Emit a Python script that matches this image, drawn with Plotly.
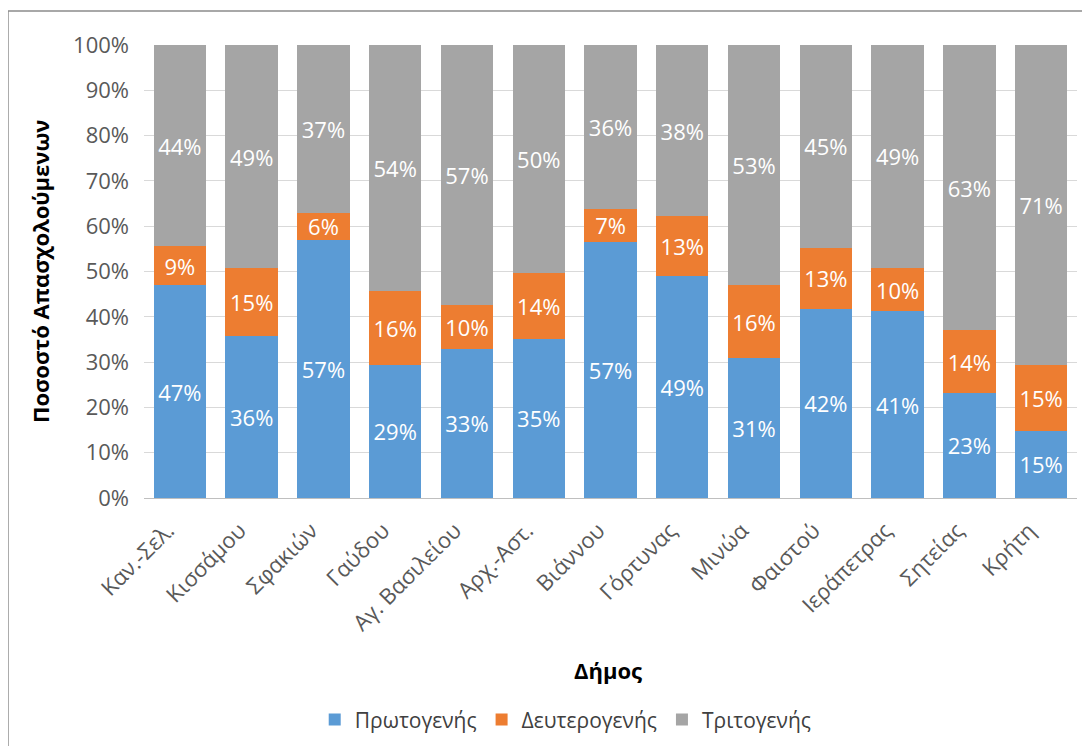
import plotly.graph_objects as go

municipalities = [
    'Καν.-Σελ.', 'Κισσάμου', 'Σφακιών', 'Γαύδου', 'Αγ. Βασιλείου', 'Αρχ.-Αστ.',
    'Βιάννου', 'Γόρτυνας', 'Μινώα', 'Φαιστού', 'Ιεράπετρας', 'Σητείας', 'Κρήτη'
]
primary = [47.0, 35.7, 57.0, 29.4, 33.0, 35.2, 56.6, 49.0, 30.8, 41.8, 41.2, 23.2, 14.8]
secondary = [8.6, 15.0, 6.0, 16.2, 9.6, 14.4, 7.2, 13.2, 16.3, 13.4, 9.6, 13.8, 14.6]
tertiary = [44.4, 49.3, 37.0, 54.4, 57.4, 50.4, 36.2, 37.8, 52.9, 44.8, 49.2, 63.0, 70.6]

y_ticks = [0, 10, 20, 30, 40, 50, 60, 70, 80, 90, 100]
y_tick_labels = ['0%', '10%', '20%', '30%', '40%', '50%', '60%', '70%', '80%', '90%', '100%']

font_family = 'Open Sans, Noto Sans, sans-serif'

fig = go.Figure()

series = [
    ('Πρωτογενής', primary, '#5B9BD5'),
    ('Δευτερογενής', secondary, '#ED7D31'),
    ('Τριτογενής', tertiary, '#A5A5A5'),
]
for name, values, color in series:
    fig.add_trace(go.Bar(
        x=municipalities, y=values, name=name,
        marker=dict(color=color, line=dict(width=0)),
        texttemplate='%{y:.0f}%', textposition='inside',
        insidetextanchor='middle', constraintext='none',
        textfont=dict(color='white', size=22, family=font_family),
        hoverinfo='x+y+name',
    ))

# the page body has an 8px margin, so the figure is sized/offset to compensate
fig.update_layout(
    barmode='stack',
    bargap=0.27,
    width=1074, height=738,
    margin=dict(l=136, r=5, t=37, b=246),
    plot_bgcolor='white', paper_bgcolor='white',
    font=dict(family=font_family, size=21, color='#595959'),
    showlegend=True,
    legend=dict(
        orientation='h', x=0.452, xanchor='center', y=-0.49, yanchor='middle',
        font=dict(size=21, color='#404040'), traceorder='normal',
        itemwidth=30, itemsizing='constant',
    ),
    xaxis=dict(
        tickangle=-45, showgrid=False, showline=True, linecolor='#bfbfbf',
        linewidth=1, ticks='', automargin=False,
        ticklabelstandoff=10, ticklabelshift=-12,
        tickfont=dict(size=22, color='#595959'),
    ),
    yaxis=dict(
        range=[0, 100], tickmode='array', tickvals=y_ticks, ticktext=y_tick_labels,
        showgrid=True, gridcolor='#d9d9d9', gridwidth=1, zeroline=False,
        showline=False, ticks='', ticklabelstandoff=14, automargin=False,
        tickfont=dict(size=22, color='#595959'),
    ),
    annotations=[
        dict(text='<b>Ποσοστό Απασχολούμενων</b>', xref='paper', yref='paper',
             x=-0.112, y=0.5, textangle=-90, showarrow=False,
             xanchor='center', yanchor='middle',
             font=dict(size=22, color='black')),
        dict(text='<b>Δήμος</b>', xref='paper', yref='paper',
             x=0.497, y=-0.38, showarrow=False, xanchor='center', yanchor='middle',
             font=dict(size=22, color='black')),
    ],
    shapes=[
        dict(type='rect', xref='paper', yref='paper',
             x0=-0.1458, y0=-0.6, x1=1.1, y1=1.0748,
             line=dict(color='#8c8c8c', width=1.5), fillcolor='rgba(0,0,0,0)'),
    ],
)

fig.write_html('out.html')
